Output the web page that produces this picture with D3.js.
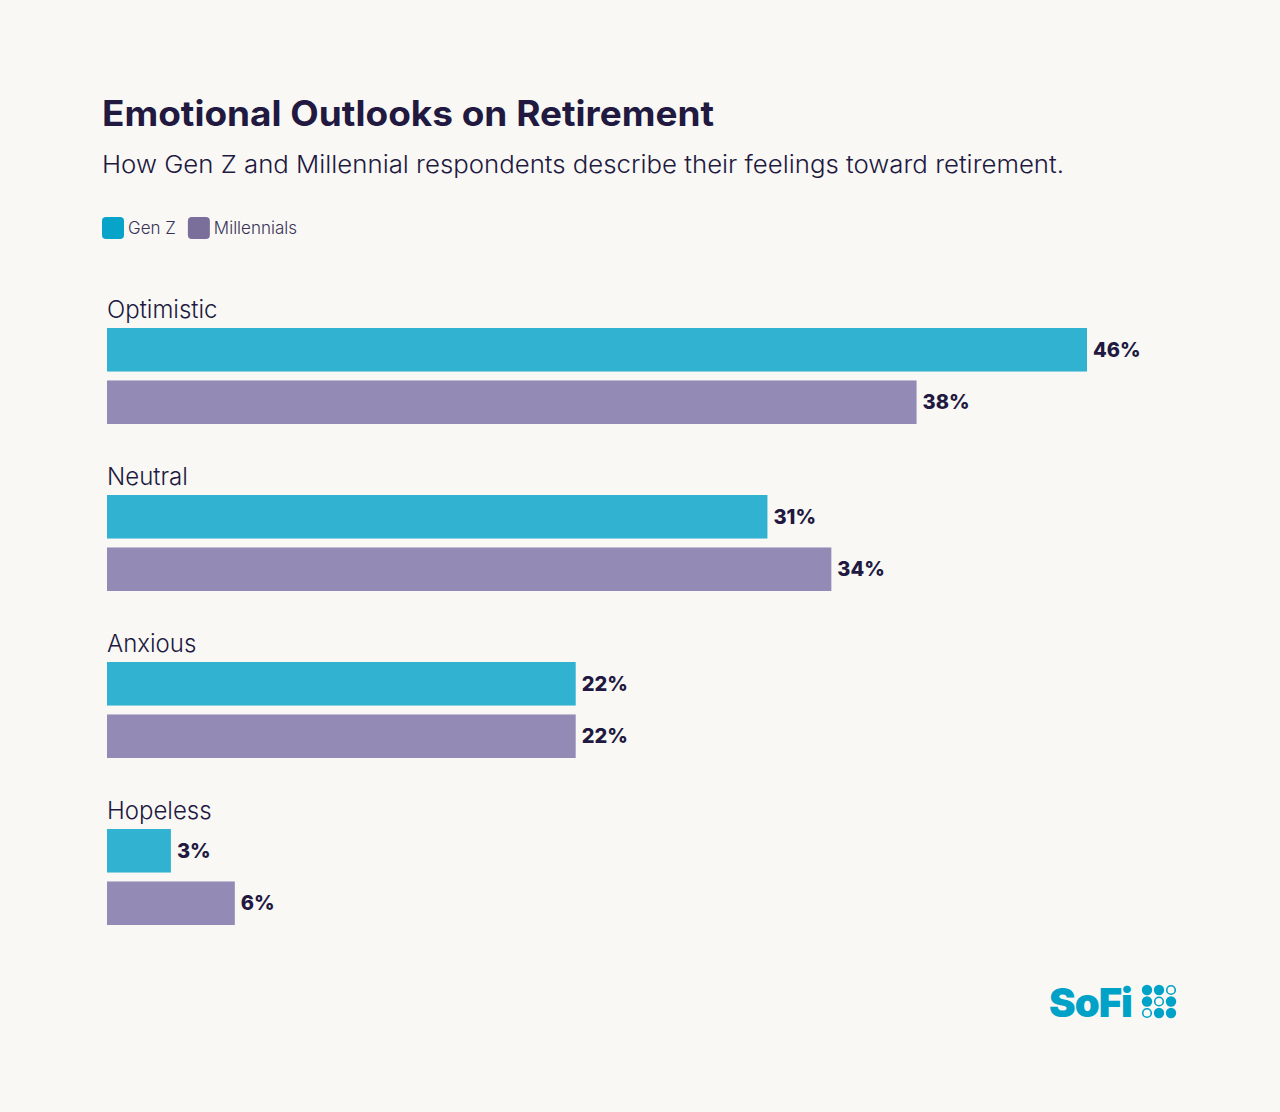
<!DOCTYPE html>
<html><head><meta charset="utf-8">
<script src="https://cdn.jsdelivr.net/npm/d3@7"></script>
<style>body{margin:0;background:#f9f8f5;font-family:Inter,Lato,sans-serif;}</style>
</head><body><svg id="c" width="1280" height="1112"></svg>
<script>
const categories = ["Optimistic","Neutral","Anxious","Hopeless"];
const series = ["Gen Z","Millennials"];
const genZ = [46,31,22,3];
const millennials = [38,34,22,6];
const barColors = ["#31b2d1","#938bb5"];
const legendColors = ["#08a3c8","#7a6f9b"];

const svg = d3.select("#c");
svg.append("rect").attr("width",1280).attr("height",1112).attr("fill","#f9f8f5");
const ink = "#21193f";
svg.append("text").attr("x",102).attr("y",126).attr("fill",ink).attr("font-size",35).attr("font-weight",700)
  .attr("textLength",612).attr("lengthAdjust","spacingAndGlyphs").text("Emotional Outlooks on Retirement");
svg.append("text").attr("x",102).attr("y",173).attr("fill",ink).attr("font-size",24).attr("font-weight",300)
  .attr("textLength",962).attr("lengthAdjust","spacingAndGlyphs").text("How Gen Z and Millennial respondents describe their feelings toward retirement.");

const lg = svg.append("g");
let lx = 102;
series.forEach((s,i)=>{
  lg.append("rect").attr("x",lx).attr("y",217).attr("width",22).attr("height",22).attr("rx",4).attr("fill",legendColors[i]);
  const t = lg.append("text").attr("x",lx+26).attr("y",234).attr("font-size",17).attr("font-weight",300).attr("fill","#3a3358").text(s);
  lx += 26 + t.node().getComputedTextLength() + 12;
});

const x = d3.scaleLinear().domain([0,46]).range([107,1087]);
const y = d3.scaleBand().domain(categories).range([290,958]).paddingInner(0).paddingOuter(0);
const sub = d3.scaleBand().domain(series).range([38,134]).paddingInner(0.17);

categories.forEach((c,ci)=>{
  const g = svg.append("g").attr("transform",`translate(0,${y(c)})`);
  g.append("text").attr("x",107).attr("y",28).attr("font-size",24).attr("font-weight",300).attr("fill",ink).text(c);
  [genZ[ci],millennials[ci]].forEach((v,si)=>{
    const yy = sub(series[si]);
    g.append("rect").attr("x",x(0)).attr("y",yy).attr("width",x(v)-x(0)).attr("height",sub.bandwidth()).attr("fill",barColors[si]);
    g.append("text").attr("x",x(v)+6).attr("y",yy+sub.bandwidth()/2+7).attr("font-size",20).attr("font-weight",800).attr("fill",ink).text(v+"%");
  });
});

// logo
svg.append("text").attr("x",1049).attr("y",1017).attr("font-size",40).attr("font-weight",900).attr("fill","#00a2c7").attr("letter-spacing",-1).text("SoFi");
const pattern = [[1,1,0],[1,0,1],[0,1,1]];
pattern.forEach((row,r)=>row.forEach((f,cI)=>{
  svg.append("circle").attr("cx",1147+cI*12).attr("cy",990+r*11.5).attr("r",f?5.2:4.3)
    .attr("fill",f?"#00a2c7":"none").attr("stroke","#00a2c7").attr("stroke-width",f?0:1.6);
}));
</script></body></html>
